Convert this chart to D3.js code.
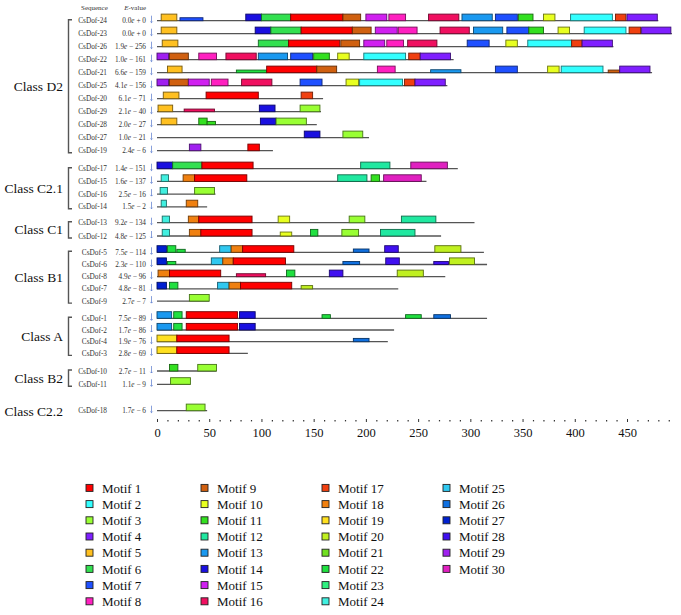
<!DOCTYPE html>
<html><head><meta charset="utf-8">
<script src="https://cdn.jsdelivr.net/npm/d3@7"></script>
<style>
html,body{margin:0;padding:0;background:#fff;}
svg{display:block;}
svg text{font-family:"Liberation Serif","DejaVu Serif",serif;}
</style></head>
<body>
<svg id="chart" width="681" height="615"></svg>
<script>
// ---------- DATA ----------
const sequences = ["CsDof-24","CsDof-23","CsDof-26","CsDof-22","CsDof-21","CsDof-25","CsDof-20","CsDof-29","CsDof-28","CsDof-27","CsDof-19",
  "CsDof-17","CsDof-15","CsDof-16","CsDof-14",
  "CsDof-13","CsDof-12",
  "CsDof-5","CsDof-6","CsDof-8","CsDof-7","CsDof-9",
  "CsDof-1","CsDof-2","CsDof-4","CsDof-3",
  "CsDof-10","CsDof-11",
  "CsDof-18"];
const evalues = ["0.0e+0","0.0e+0","1.9e-256","1.0e-161","6.6e-159","4.1e-156","6.1e-71","2.1e-40","2.0e-27","1.0e-21","2.4e-6",
  "1.4e-151","1.6e-137","2.5e-16","1.5e-2",
  "9.2e-134","4.8e-125",
  "7.5e-114","2.3e-110","4.9e-96","4.8e-81","2.7e-7",
  "7.5e-89","1.7e-86","1.9e-76","2.8e-69",
  "2.7e-11","1.1e-9",
  "1.7e-6"];
const lengths = [480,493,437,284,474,278,159,157,153,203,111,
  288,258,56,48,
  304,272,
  313,316,276,231,50,
  316,227,221,87,
  57,32,
  48];
const classNames = ["Class D2","Class C2.1","Class C1","Class B1","Class A","Class B2","Class C2.2"];
const classSizes = [11,4,2,5,4,2,1];
const classBracket = [true,true,true,true,true,true,false];
// motif sites per sequence: [motif, start, end, relative significance height]
const sites = [
  [[5,4,19,1],[7,22,44,.45],[14,85,100,1],[6,100,128,1],[1,128,178,1],[9,178,195,1],[15,200,220,1],[8,222,238,1],[16,260,289,1],[13,292,321,1],[7,324,345,1],[11,346,360,1],[10,370,381,1],[2,396,436,1],[17,439,449,1],[4,450,479,1]],
  [[5,4,19,1],[14,94,109,1],[6,109,138,1],[1,138,187,1],[9,187,205,1],[15,209,230,1],[8,231,249,1],[16,271,299,1],[13,303,331,1],[7,335,356,1],[11,356,370,1],[10,384,395,1],[2,409,449,1],[17,452,463,1],[4,464,492,1]],
  [[5,5,20,1],[6,97,126,1],[1,126,175,1],[9,176,194,1],[15,198,218,1],[8,220,236,1],[16,240,268,1],[7,297,318,1],[10,334,345,1],[2,355,397,1],[17,397,407,1],[4,407,436,1]],
  [[29,0,11,1],[9,12,30,1],[8,40,57,1],[16,66,95,1],[13,97,125,1],[7,128,149,1],[11,150,165,1],[10,173,184,1],[2,198,238,1],[17,241,252,1],[4,252,281,1]],
  [[5,10,24,1],[22,76,105,.4],[1,105,153,1],[9,153,172,1],[8,211,228,1],[13,262,291,.45],[7,324,345,1],[10,374,385,1],[2,387,427,1],[9,432,443,.4],[4,443,472,1]],
  [[29,0,11,1],[9,12,30,1],[15,30,50,1],[8,52,68,1],[16,81,110,1],[7,137,158,1],[10,181,193,1],[2,194,235,1],[17,237,247,1],[4,247,276,1]],
  [[5,6,21,1],[1,47,97,1],[17,138,149,1]],
  [[5,1,15,1],[16,26,55,.4],[14,98,113,1],[3,137,156,1]],
  [[5,4,19,1],[11,40,48,1],[11,48,56,.5],[14,99,114,1],[3,114,143,1]],
  [[14,141,156,1],[3,178,197,1]],
  [[29,31,42,1],[1,87,98,1]],
  [[14,0,15,1],[6,15,43,1],[1,43,92,1],[12,195,223,1],[30,243,278,1]],
  [[24,4,11,1],[18,25,36,1],[1,36,86,1],[12,173,201,1],[11,205,213,1],[30,217,253,1]],
  [[24,3,10,1],[3,36,55,1]],
  [[24,4,9,1],[18,28,39,1]],
  [[24,5,12,1],[18,30,40,1],[1,40,91,1],[10,116,127,1],[3,184,199,1],[12,234,267,1]],
  [[24,5,12,1],[18,31,42,1],[1,42,91,1],[10,118,129,.6],[22,147,154,1],[3,177,193,1],[12,214,247,1]],
  [[27,0,9,1],[22,10,18,1],[22,19,27,.45],[25,60,71,1],[18,71,82,1],[1,82,131,1],[26,188,203,.5],[28,218,231,1],[20,266,291,1]],
  [[27,0,9,1],[22,10,18,.45],[25,52,63,1],[18,63,73,1],[1,73,123,1],[26,178,194,.45],[28,219,232,1],[28,265,279,.45],[20,280,304,1]],
  [[18,1,12,1],[1,12,61,1],[16,76,104,.45],[22,124,132,1],[28,165,178,1],[20,230,255,1]],
  [[27,0,9,1],[22,12,20,1],[25,58,69,1],[18,69,80,1],[1,80,129,1],[20,138,149,.5]],
  [[3,31,50,1]],
  [[13,0,14,1],[22,16,24,1],[1,28,77,1],[14,79,94,1],[22,158,166,.55],[22,238,253,.55],[26,265,281,.55]],
  [[13,0,14,1],[22,16,24,1],[1,28,77,1],[14,79,94,1]],
  [[19,0,19,1],[1,19,69,1],[26,188,203,.5]],
  [[19,0,19,1],[1,19,69,1]],
  [[11,12,20,1],[3,39,57,1]],
  [[3,13,32,1]],
  [[3,28,46,1]]
];
const motifNames = d3.range(1,31).map(i => "Motif " + i);
const motifColors = ["#ff0000","#33ffff","#99ff33","#7f1fff","#ffc020","#33e050","#1f50ff","#ff20c0","#d06010","#e8ff20",
  "#33e020","#20e8a0","#1a99f0","#1a10e0","#d020f0","#f01060","#f04010","#f08010","#ffe020","#c0f020",
  "#70e020","#20e040","#30f080","#40f0e0","#30c8f0","#1070e0","#0020d0","#4010f0","#a020f0","#e020c0"];
const axisTicks = d3.range(0, 451, 50);

// ---------- LAYOUT ----------
const FONT = "Liberation Serif, DejaVu Serif, serif";
const svg = d3.select("#chart").attr("font-family", FONT);
const x = d3.scaleLinear().domain([0, 450]).range([157, 627]);
const color = d3.scaleOrdinal().domain(d3.range(1,31)).range(motifColors);
const groupTop = [20.7, 168.7, 222.7, 252.3, 318.3, 371, 410.7];
const groupStep = [13, 12.7, 13.3, 12.2, 11.7, 13.3, 0];
const rowY = [];
let idx = 0;
classSizes.forEach((n, g) => { for (let k = 0; k < n; k++) rowY[idx++] = groupTop[g] + k * groupStep[g]; });
const blockH = 6.6;

// header
svg.append("text").attr("x", 81).attr("y", 10).attr("font-size", 7).attr("fill", "#333").text("Sequence");
const hdr = svg.append("text").attr("x", 146).attr("y", 10).attr("font-size", 7).attr("fill", "#333").attr("text-anchor", "end");
hdr.append("tspan").attr("font-style", "italic").text("E");
hdr.append("tspan").text("-value");

// class labels & brackets
let start = 0;
classNames.forEach((name, g) => {
  const y0 = rowY[start], y1 = rowY[start + classSizes[g] - 1];
  const mid = (y0 + y1) / 2;
  svg.append("text").attr("x", 63).attr("y", mid + 5).attr("text-anchor", "end")
    .attr("font-size", 13.5).attr("fill", "#111").text(name);
  if (classBracket[g]) {
    svg.append("path")
      .attr("d", `M72,${y0 - 1}H68.5V${y1 + 2}H72`)
      .attr("fill", "none").attr("stroke", "#555").attr("stroke-width", 1.4);
  }
  start += classSizes[g];
});

// rows
const rows = svg.append("g").selectAll("g").data(sequences).join("g")
  .attr("transform", (d, i) => `translate(0,${rowY[i]})`);

rows.append("text").attr("x", 107).attr("y", 2.5).attr("text-anchor", "end")
  .attr("font-size", 7.3).attr("fill", "#333").text(d => d);

rows.each(function(d, i) {
  const m = evalues[i].match(/^([\d.]+)e([+-])(\d+)$/);
  const t = d3.select(this).append("text").attr("x", 146).attr("y", 2.5).attr("text-anchor", "end")
    .attr("font-size", 7.3).attr("fill", "#333");
  t.append("tspan").text(m[1]);
  t.append("tspan").attr("font-style", "italic").text("e");
  t.append("tspan").text(m[2] === "+" ? " + " + m[3] : " \u2212 " + m[3]);
});

// little blue markers
rows.append("path").attr("d", "M151.5,-5V2M150.3,0.8L151.5,2L152.7,0.8")
  .attr("fill", "none").attr("stroke", "#5577cc").attr("stroke-width", 0.7);

// sequence lines
rows.append("line").attr("x1", x(0)).attr("x2", (d, i) => x(lengths[i]))
  .attr("y1", 0).attr("y2", 0).attr("stroke", "#555").attr("stroke-width", 1.3);

// motif blocks
rows.each(function(d, i) {
  d3.select(this).selectAll("rect.m").data(sites[i]).join("rect").attr("class", "m")
    .attr("x", s => x(s[1]))
    .attr("width", s => x(s[2]) - x(s[1]))
    .attr("y", s => -blockH * s[3])
    .attr("height", s => blockH * s[3])
    .attr("fill", s => color(s[0]))
    .attr("stroke", s => d3.color(color(s[0])).darker(2.2))
    .attr("stroke-width", 0.9);
});

// axis
const axisY = 419;
const ax = svg.append("g").attr("transform", `translate(0,${axisY})`)
  .call(d3.axisBottom(x).tickValues(axisTicks).tickSize(3).tickPadding(6));
ax.attr("font-family", FONT);
ax.select(".domain").remove();
ax.selectAll(".tick line").attr("stroke", "#333").attr("stroke-width", 1);
ax.selectAll(".tick text").attr("font-size", 12.5).attr("fill", "#111");
const minor = svg.append("g").attr("transform", `translate(0,${axisY + 1})`)
  .call(d3.axisBottom(x).tickValues(d3.range(0, 491, 10).filter(v => v % 50 !== 0)).tickSize(1.4).tickFormat(""));
minor.select(".domain").remove();
minor.selectAll(".tick line").attr("stroke", "#333").attr("stroke-width", 1.2);

// legend
const colX = [86, 201, 322, 443];
const legend = svg.append("g").selectAll("g").data(motifNames).join("g")
  .attr("transform", (d, i) => `translate(${colX[Math.floor(i / 8)]},${488 + (i % 8) * 16.2})`);
legend.append("rect").attr("x", 0).attr("y", -3.6).attr("width", 7).attr("height", 7)
  .attr("fill", (d, i) => color(i + 1)).attr("stroke", "#222").attr("stroke-width", 0.9);
legend.append("text").attr("x", 16).attr("y", 4.5).attr("font-size", 13).attr("fill", "#111").text(d => d);
</script>
</body></html>
